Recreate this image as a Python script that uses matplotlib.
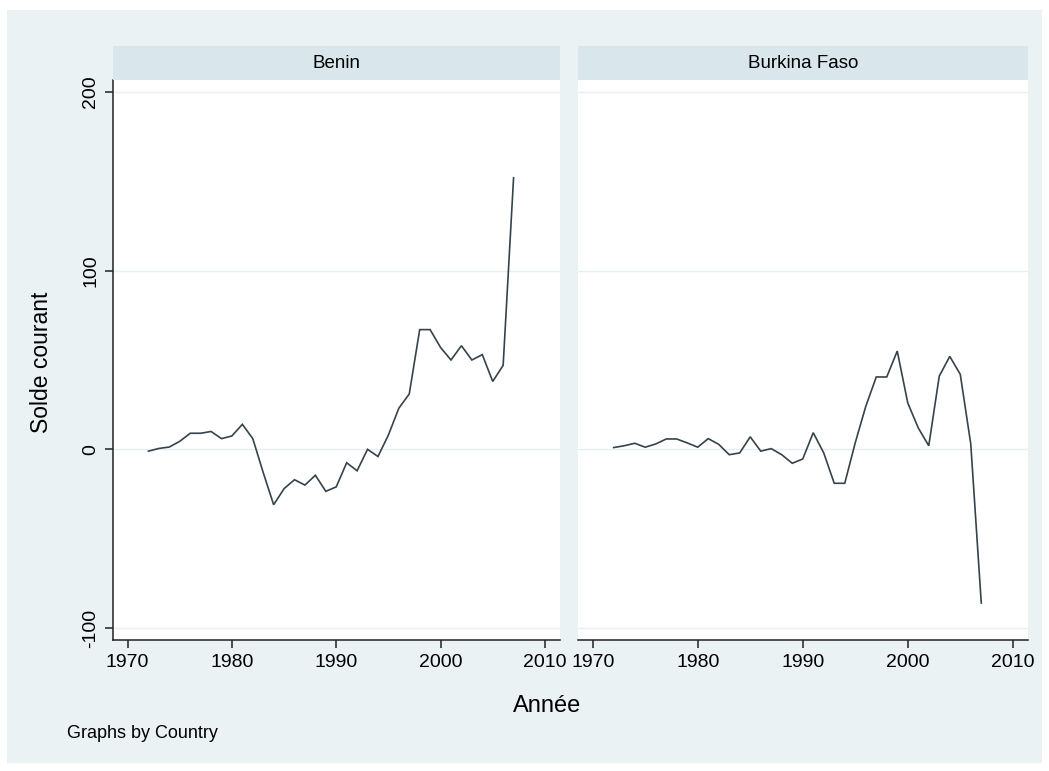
import matplotlib
matplotlib.use("Agg")
import matplotlib.pyplot as plt
from matplotlib.patches import Rectangle

plt.rcParams['font.family'] = ['Liberation Sans', 'DejaVu Sans']

years = list(range(1972, 2008))
countries = ["Benin", "Burkina Faso"]
benin = [-1, 0.5, 1.3, 4.5, 9, 9, 10, 6, 7.5, 14, 6, -13, -31, -22, -17, -20,
         -14.5, -23.5, -21, -7.5, -12, 0, -4, 8, 23, 31, 67, 67, 57, 50, 58,
         50, 53, 38, 47, 152]
burkina = [1, 2, 3.4, 1.2, 3, 5.8, 5.8, 3.6, 1.2, 6, 2.8, -3, -2, 7, -1, 0.4,
           -3, -7.8, -5.4, 9.3, -2, -19, -19, 3.7, 24, 40.5, 40.5, 55, 26, 12,
           2, 41, 52, 42, 3, -86]
series = [benin, burkina]
xticks = [1970, 1980, 1990, 2000, 2010]
yticks = [-100, 0, 100, 200]
ylabel = "Solde courant"
xlabel = "Année"
note = "Graphs by Country"

W, H = 1049, 771
fig = plt.figure(figsize=(W / 100, H / 100), dpi=100)
fig.patch.set_facecolor("white")
bg = "#EAF2F3"
fig.add_artist(Rectangle((7 / W, 8 / H), (W - 14) / W, (H - 18) / H,
                         transform=fig.transFigure, facecolor=bg,
                         edgecolor="none", zorder=-10))

line_col = "#36434B"
strip_col = "#D9E6EB"
panels = [(113, 560), (578, 1028)]
top, bot = 80, 640
strip_top = 46

for i, (x0, x1) in enumerate(panels):
    ax = fig.add_axes([x0 / W, (H - bot) / H, (x1 - x0) / W, (bot - top) / H])
    ax.set_facecolor("white")
    ax.plot(years, series[i], color=line_col, lw=1.2, solid_joinstyle="miter")
    ax.set_xlim(1968.6, 2011.45)
    ax.set_ylim(-106.7, 206.7)
    ax.set_xticks(xticks)
    ax.set_xticklabels([str(t) for t in xticks], fontsize=14)
    ax.set_yticks(yticks)
    for y in yticks:
        ax.axhline(y, color="#E8EFF1", lw=1.0, zorder=0)
    ax.tick_params(axis="x", length=6, width=1.1, color="#222222", pad=4)
    for s in ["top", "right"]:
        ax.spines[s].set_visible(False)
    ax.spines["bottom"].set_linewidth(1.1)
    ax.spines["bottom"].set_color("#222222")
    if i == 0:
        ax.spines["left"].set_linewidth(1.1)
        ax.spines["left"].set_color("#222222")
        ax.tick_params(axis="y", length=6, width=1.1, color="#222222", pad=4)
        ax.set_yticklabels([str(t) for t in yticks], fontsize=14,
                           rotation=90, va="center")
    else:
        ax.spines["left"].set_visible(False)
        ax.tick_params(axis="y", length=0, labelleft=False)
    # strip
    sax = fig.add_axes([x0 / W, (H - top) / H, (x1 - x0) / W, (top - strip_top) / H])
    sax.set_facecolor(strip_col)
    sax.set_xticks([]); sax.set_yticks([])
    for s in sax.spines.values():
        s.set_visible(False)
    sax.text(0.5, 0.5, countries[i], ha="center", va="center", fontsize=13.5,
             transform=sax.transAxes)

fig.text(42 / W, 1 - 362 / H, ylabel, rotation=90, ha="center", va="center",
         fontsize=16.5)
fig.text(547 / W, 1 - 706 / H, xlabel, ha="center", va="center", fontsize=17)
fig.text(67 / W, 1 - 734 / H, note, ha="left", va="center", fontsize=13)

fig.savefig("out.png", dpi=100, facecolor=fig.get_facecolor())
